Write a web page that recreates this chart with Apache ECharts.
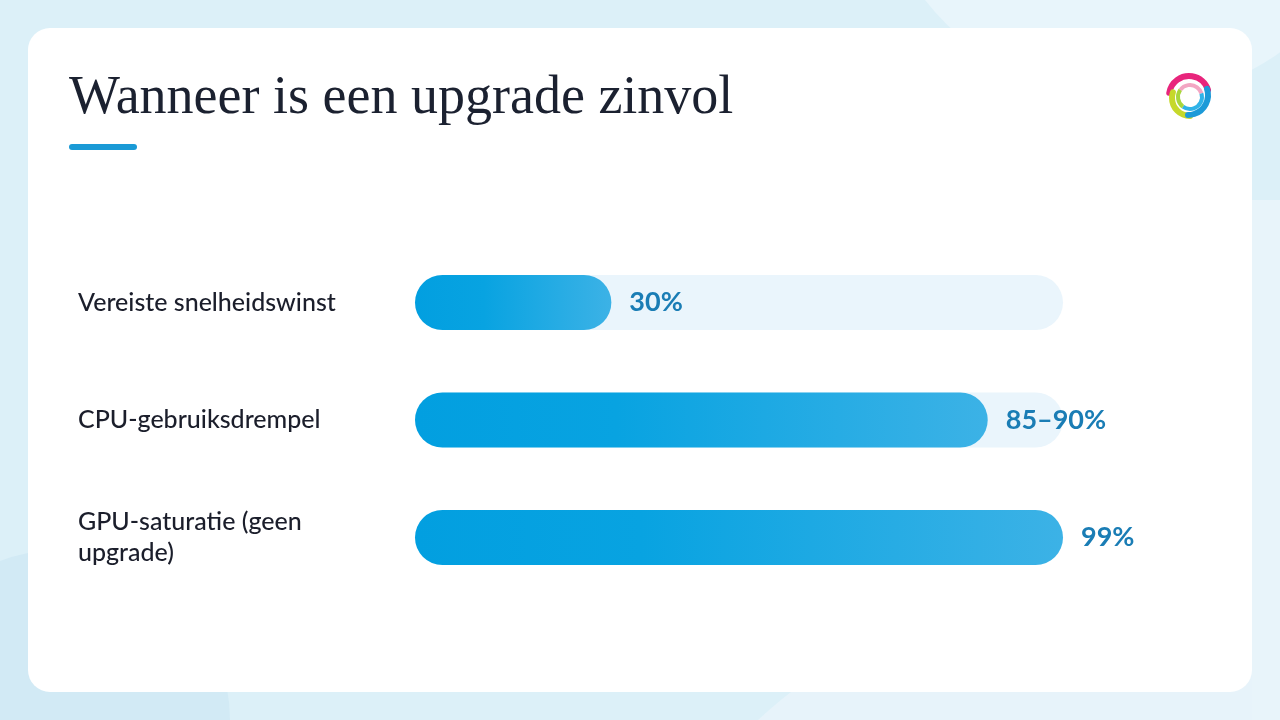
<!DOCTYPE html>
<html>
<head>
<meta charset="utf-8">
<style>
  html, body { margin: 0; padding: 0; background: #dcf0f8; }
  #chart { width: 1280px; height: 720px; }
</style>
<script src="https://cdn.jsdelivr.net/npm/echarts@6/dist/echarts.min.js"></script>
</head>
<body>
<div id="chart"></div>
<script>
// ---- Data ----
const titleText = 'Wanneer is een upgrade zinvol';
const categories = ['Vereiste snelheidswinst', 'CPU-gebruiksdrempel', 'GPU-saturatie (geen upgrade)'];
const values = [30, 87.5, 99];
const valueLabels = ['30%', '85–90%', '99%'];

const chart = echarts.init(document.getElementById('chart'), null, { renderer: 'canvas' });

const barGradient = new echarts.graphic.LinearGradient(0, 0, 1, 0, [
  { offset: 0, color: '#029fe0' },
  { offset: 0.35, color: '#08a3e1' },
  { offset: 1, color: '#3cb2e6' }
]);

const option = {
  backgroundColor: '#dcf0f8',
  animation: false,
  graphic: [
    // background blobs
    { type: 'circle', z: -30, shape: { cx: 1130, cy: -160, r: 260 }, style: { fill: '#e8f5fb' } },
    { type: 'circle', z: -30, shape: { cx: 60, cy: 720, r: 170 }, style: { fill: '#d2eaf5' } },
    { type: 'circle', z: -30, shape: { cx: 1060, cy: 1040, r: 440 }, style: { fill: '#e7f3fa' } },
    { type: 'rect', z: -30, shape: { x: 1252, y: 200, width: 28, height: 520 }, style: { fill: '#e8f4fa' } },
    // card
    { type: 'rect', z: -20, shape: { x: 28, y: 28, width: 1224, height: 664, r: 22 }, style: { fill: '#ffffff' } },
    // title
    { type: 'text', z: 10, left: 69, top: 72, style: { text: titleText, fill: '#1b2130', font: '54px "Liberation Serif", "DejaVu Serif", serif' } },
    // accent underline
    { type: 'rect', z: 10, shape: { x: 69, y: 144, width: 68, height: 6, r: 3 }, style: { fill: '#1a9ad6' } },
    // logo (swirl)
    { type: 'arc', z: 10, shape: { cx: 1189, cy: 96, r: 20, startAngle: Math.PI * 1.05, endAngle: Math.PI * 1.9 }, style: { stroke: '#e8257c', lineWidth: 6, fill: null, lineCap: 'round' } },
    { type: 'arc', z: 10, shape: { cx: 1190, cy: 98, r: 18, startAngle: Math.PI * 0.5, endAngle: Math.PI * 1.1 }, style: { stroke: '#c6d82b', lineWidth: 6, fill: null, lineCap: 'round' } },
    { type: 'arc', z: 10, shape: { cx: 1188, cy: 95, r: 20, startAngle: Math.PI * -0.1, endAngle: Math.PI * 0.5 }, style: { stroke: '#1c9ad8', lineWidth: 6, fill: null, lineCap: 'round' } },
    { type: 'arc', z: 10, shape: { cx: 1190, cy: 97, r: 12, startAngle: Math.PI * 1.2, endAngle: Math.PI * 1.9 }, style: { stroke: '#f3a6c3', lineWidth: 4, fill: null } },
    { type: 'arc', z: 10, shape: { cx: 1190, cy: 97, r: 12, startAngle: Math.PI * -0.1, endAngle: Math.PI * 0.7 }, style: { stroke: '#2fb3e8', lineWidth: 4, fill: null } },
    { type: 'arc', z: 10, shape: { cx: 1190, cy: 97, r: 12, startAngle: Math.PI * 0.7, endAngle: Math.PI * 1.2 }, style: { stroke: '#a9d63c', lineWidth: 4, fill: null } }
  ],
  grid: { left: 415, right: 217, top: 243.75, bottom: 123.75, containLabel: false },
  xAxis: {
    type: 'value',
    min: 0,
    max: Math.max(...values),
    show: false
  },
  yAxis: {
    type: 'category',
    inverse: true,
    data: categories,
    axisLine: { show: false },
    axisTick: { show: false },
    splitLine: { show: false },
    axisLabel: {
      align: 'left',
      margin: 337,
      width: 290,
      overflow: 'break',
      color: '#1b1e2b',
      fontFamily: 'Lato, "Open Sans", sans-serif',
      fontWeight: 500,
      fontSize: 25,
      lineHeight: 31
    }
  },
  series: [{
    type: 'bar',
    data: values,
    barWidth: 55,
    showBackground: true,
    backgroundStyle: { color: '#eaf5fc', borderRadius: 27.5 },
    itemStyle: { color: barGradient, borderRadius: 27.5 },
    label: {
      show: true,
      position: 'right',
      distance: 18,
      formatter: p => valueLabels[p.dataIndex],
      color: '#1a7db5',
      fontFamily: 'Lato, "Open Sans", sans-serif',
      fontWeight: 'bold',
      fontSize: 27
    }
  }]
};
chart.setOption(option);
</script>
</body>
</html>
